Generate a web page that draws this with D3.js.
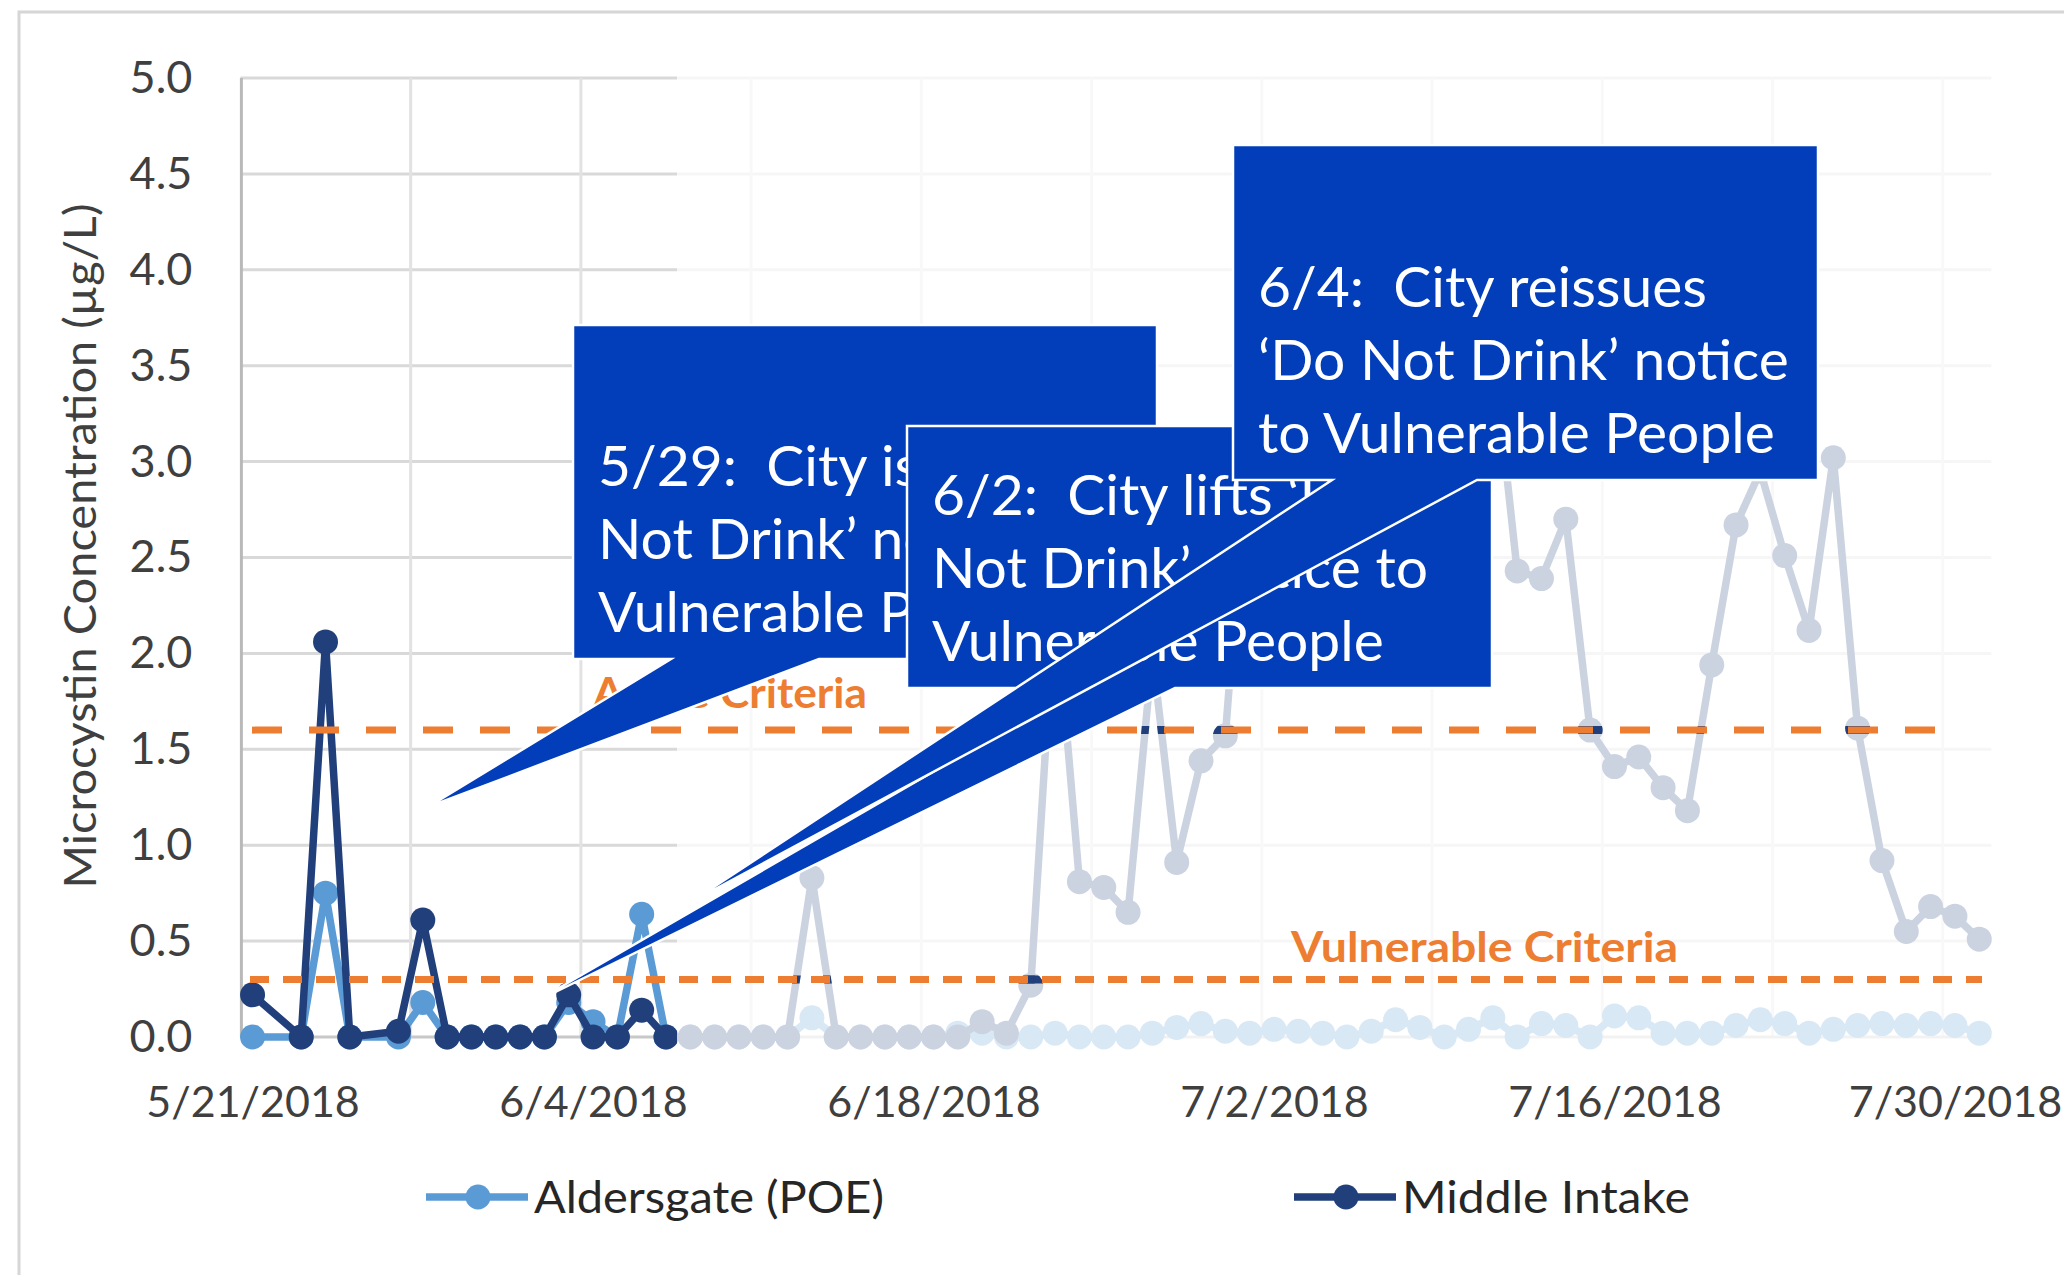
<!DOCTYPE html>
<html>
<head>
<meta charset="utf-8">
<script src="https://cdnjs.cloudflare.com/ajax/libs/d3/7.8.5/d3.min.js"></script>
<style>
  html, body { margin: 0; padding: 0; background: #fff; }
  svg { display: block; }
</style>
</head>
<body>
<div id="chart"></div>
<script>
// sample dates (2018)
var dates = ["5/21", "5/23", "5/24", "5/25", "5/27", "5/28", "5/29", "5/30", "5/31",
  "6/1", "6/2", "6/3", "6/4", "6/5", "6/6", "6/7", "6/8", "6/9", "6/10",
  "6/11", "6/12", "6/13", "6/14", "6/15", "6/16", "6/17", "6/18", "6/19", "6/20",
  "6/21", "6/22", "6/23", "6/24", "6/25", "6/26", "6/27", "6/28", "6/29", "6/30",
  "7/1", "7/2", "7/3", "7/4", "7/5", "7/6", "7/7", "7/8", "7/9", "7/10",
  "7/11", "7/12", "7/13", "7/14", "7/15", "7/16", "7/17", "7/18", "7/19", "7/20",
  "7/21", "7/22", "7/23", "7/24", "7/25", "7/26", "7/27", "7/28", "7/29", "7/30", "7/31"];
var aldersgate = [0, 0, 0.75, 0, 0, 0.18, 0, 0, 0,
  0, 0, 0.18, 0.08, 0, 0.64, 0, 0, 0, 0,
  0, 0, 0.10, 0, 0, 0, 0, 0, 0.02, 0.02,
  0, 0, 0.02, 0, 0, 0, 0.02, 0.05, 0.07, 0.03,
  0.02, 0.04, 0.03, 0.02, 0, 0.03, 0.09, 0.05, 0, 0.04,
  0.10, 0, 0.07, 0.06, 0, 0.11, 0.10, 0.02, 0.02, 0.02,
  0.06, 0.09, 0.07, 0.02, 0.04, 0.06, 0.07, 0.06, 0.07, 0.06, 0.02];
var middleIntake = [0.22, 0, 2.06, 0, 0.03, 0.61, 0, 0, 0,
  0, 0, 0.22, 0, 0, 0.14, 0, 0, 0, 0,
  0, 0, 0.83, 0, 0, 0, 0, 0, 0, 0.08,
  0.02, 0.27, 2.3, 0.81, 0.78, 0.65, 2.0, 0.91, 1.44, 1.57,
  3.2, 2.9, 3.5, 3.1, 2.8, 3.3, 3.0, 2.7, 3.4, 3.1,
  3.6, 2.43, 2.39, 2.70, 1.60, 1.41, 1.46, 1.30, 1.18, 1.94,
  2.67, 2.95, 2.51, 2.12, 3.02, 1.61, 0.92, 0.55, 0.68, 0.63, 0.51];
var seriesNames = ["Aldersgate (POE)", "Middle Intake"];
var yTicks = [0, 0.5, 1, 1.5, 2, 2.5, 3, 3.5, 4, 4.5, 5];
var xTicks = ["5/21/2018", "6/4/2018", "6/18/2018", "7/2/2018", "7/16/2018", "7/30/2018"];
var criteriaNames = ["Acute Criteria", "Vulnerable Criteria"];
var criteriaValues = [1.6, 0.3];
var calloutText = [
  ["5/29:  City issues \u2018Do", "Not Drink\u2019 notice to", "Vulnerable People"],
  ["6/2:  City lifts \u2018Do", "Not Drink\u2019 notice to", "Vulnerable People"],
  ["6/4:  City reissues", "\u2018Do Not Drink\u2019 notice", "to Vulnerable People"]
];

var FONT = "Lato, 'Open Sans', sans-serif";
var colors = ["#5b9bd5", "#213f7a"];
var orange = "#ed7d31";
var calloutBlue = "#023dba";

var W = 2064, H = 1275;
var plot = { left: 240.4, right: 1991.4, top: 78, bottom: 1037 };
var fadeFrom = 677;

var parse = d3.timeParse("%m/%d/%Y");
var data = dates.map(function (d, i) {
  return { date: parse(d + "/2018"), a: aldersgate[i], m: middleIntake[i] };
});

var svg = d3.select("#chart").append("svg")
  .attr("width", W).attr("height", H)
  .attr("viewBox", "0 0 " + W + " " + H);

// dates sit in the middle of their day slot, like an Excel date axis
var x = d3.scaleTime()
  .domain([new Date(2018, 4, 20, 12), new Date(2018, 6, 31, 12)])
  .range([plot.left, plot.right]);
var y = d3.scaleLinear().domain([0, 5]).range([plot.bottom, plot.top]);

// outer frame
svg.append("rect")
  .attr("x", 19).attr("y", 12).attr("width", 2200).attr("height", 1400)
  .attr("fill", "none").attr("stroke", "#d6d6d6").attr("stroke-width", 3);

// grid
var grid = svg.append("g");
grid.selectAll("line.h")
  .data(yTicks.filter(function (d) { return d > 0; }))
  .enter().append("line")
  .attr("x1", plot.left).attr("x2", plot.right)
  .attr("y1", function (d) { return y(d); })
  .attr("y2", function (d) { return y(d); })
  .attr("stroke", "#d9d9d9").attr("stroke-width", 3);
var weekLines = d3.range(1, 11).map(function (k) {
  return d3.timeDay.offset(x.domain()[0], 7 * k);
});
grid.selectAll("line.v")
  .data(weekLines)
  .enter().append("line")
  .attr("x1", function (d) { return x(d); })
  .attr("x2", function (d) { return x(d); })
  .attr("y1", plot.top).attr("y2", plot.bottom)
  .attr("stroke", "#e2e2e2").attr("stroke-width", 3);
grid.append("line")
  .attr("x1", plot.left).attr("x2", plot.right)
  .attr("y1", plot.bottom).attr("y2", plot.bottom)
  .attr("stroke", "#c8c8c8").attr("stroke-width", 3);
grid.append("line")
  .attr("x1", plot.left + 1).attr("x2", plot.left + 1)
  .attr("y1", plot.top).attr("y2", plot.bottom)
  .attr("stroke", "#b9b9b9").attr("stroke-width", 3);

// series
var keys = ["a", "m"];
function drawSeries(g, k, i) {
  var line = d3.line()
    .x(function (d) { return x(d.date); })
    .y(function (d) { return y(d[k]); });
  g.append("path")
    .datum(data)
    .attr("d", line)
    .attr("fill", "none")
    .attr("stroke", colors[i])
    .attr("stroke-width", 7.5)
    .attr("stroke-linejoin", "round");
  g.selectAll("circle." + k)
    .data(data)
    .enter().append("circle")
    .attr("cx", function (d) { return x(d.date); })
    .attr("cy", function (d) { return y(d[k]); })
    .attr("r", 12.5)
    .attr("fill", colors[i]);
}
var seriesG = svg.append("g");
keys.forEach(function (k, i) { drawSeries(seriesG, k, i); });

// washed-out part of the picture after 6/7
svg.append("rect")
  .attr("x", fadeFrom).attr("y", 40)
  .attr("width", 1997 - fadeFrom).attr("height", 1020)
  .attr("fill", "#fff").attr("opacity", 0.77);

// criteria lines (they keep the original colours where the series cross)
var defs = svg.append("defs");
criteriaValues.forEach(function (v, i) {
  defs.append("clipPath").attr("id", "strip" + i)
    .append("rect")
    .attr("x", fadeFrom).attr("y", y(v) - 4)
    .attr("width", 1997 - fadeFrom).attr("height", 8);
  var sg = svg.append("g").attr("clip-path", "url(#strip" + i + ")");
  drawSeries(sg, "m", 1);
});
var dashes = ["30,27", "19,14"];
var ends = [[252, 1950], [250, 1982]];
criteriaValues.forEach(function (v, i) {
  svg.append("line")
    .attr("x1", ends[i][0]).attr("x2", ends[i][1])
    .attr("y1", y(v)).attr("y2", y(v))
    .attr("stroke", orange)
    .attr("stroke-width", 7)
    .attr("stroke-dasharray", dashes[i]);
});
var critPos = [[593, 708, 274], [1291, 962, 387]];
criteriaNames.forEach(function (t, i) {
  svg.append("text")
    .attr("x", critPos[i][0]).attr("y", critPos[i][1])
    .attr("font-family", FONT).attr("font-weight", "bold")
    .attr("font-size", 42)
    .attr("textLength", critPos[i][2])
    .attr("lengthAdjust", "spacingAndGlyphs")
    .attr("fill", orange)
    .text(t);
});

// axes
var yAxis = svg.append("g")
  .attr("transform", "translate(" + plot.left + ",0)")
  .call(d3.axisLeft(y).tickValues(yTicks).tickFormat(d3.format(".1f"))
    .tickSize(0).tickPadding(48));
var xAxis = svg.append("g")
  .attr("transform", "translate(0," + plot.bottom + ")")
  .call(d3.axisBottom(x).tickValues(xTicks.map(parse))
    .tickFormat(d3.timeFormat("%-m/%-d/%Y"))
    .tickSize(0).tickPadding(49));
[yAxis, xAxis].forEach(function (ax) {
  ax.select(".domain").remove();
  ax.selectAll("text")
    .attr("font-family", FONT)
    .attr("fill", "#3f3f3f");
});
yAxis.selectAll("text").attr("font-size", 45);
xAxis.selectAll("text").attr("font-size", 43);

svg.append("text")
  .attr("transform", "translate(96,546) rotate(-90)")
  .attr("text-anchor", "middle")
  .attr("font-family", FONT).attr("font-size", 44)
  .attr("textLength", 685).attr("lengthAdjust", "spacingAndGlyphs")
  .attr("fill", "#3f3f3f")
  .text("Microcystin Concentration (\u00b5g/L)");

// legend
var legendX = [[426, 530, 350], [1294, 1398, 288]];
seriesNames.forEach(function (name, i) {
  var lg = svg.append("g");
  lg.append("line")
    .attr("x1", legendX[i][0]).attr("x2", legendX[i][1] - 2)
    .attr("y1", 1197).attr("y2", 1197)
    .attr("stroke", colors[i]).attr("stroke-width", 7.5);
  lg.append("circle")
    .attr("cx", (legendX[i][0] + legendX[i][1]) / 2).attr("cy", 1197)
    .attr("r", 12.5).attr("fill", colors[i]);
  lg.append("text")
    .attr("x", legendX[i][1] + 4).attr("y", 1213)
    .attr("font-family", FONT).attr("font-size", 45)
    .attr("textLength", legendX[i][2]).attr("lengthAdjust", "spacingAndGlyphs")
    .attr("fill", "#262626")
    .text(name);
});

// callouts: box, tail base on the bottom edge, tail tip
function textWidth(str, size) {
  var t = svg.append("text").attr("font-family", FONT).attr("font-size", size).text(str);
  var w = t.node().getComputedTextLength();
  t.remove();
  return w;
}
var calloutSize = 100 * 517 / textWidth("to Vulnerable People", 100);
var boxes = [
  { x0: 573, y0: 325, x1: 1157, y1: 659, bl: 671, br: 819, tip: [428, 807] },
  { x0: 907, y0: 426, x1: 1492, y1: 688, bl: 1078, br: 1175, tip: [533, 1003] },
  { x0: 1233, y0: 145, x1: 1818, y1: 480, bl: 1332, br: 1477, tip: [691, 902] }
];
boxes.forEach(function (b, i) {
  var cg = svg.append("g");
  var p = d3.path();
  p.moveTo(b.x0, b.y0);
  p.lineTo(b.x1, b.y0);
  p.lineTo(b.x1, b.y1);
  p.lineTo(b.br, b.y1);
  p.lineTo(b.tip[0], b.tip[1]);
  p.lineTo(b.bl, b.y1);
  p.lineTo(b.x0, b.y1);
  p.closePath();
  cg.append("path")
    .attr("d", p.toString())
    .attr("fill", calloutBlue)
    .attr("stroke", "#fff")
    .attr("stroke-width", 2.5)
    .attr("stroke-linejoin", "miter");
  var lines = calloutText[i];
  cg.selectAll("text")
    .data(lines)
    .enter().append("text")
    .attr("x", b.x0 + 25)
    .attr("y", function (d, j) { return b.y1 - 27 - (lines.length - 1 - j) * 73; })
    .attr("font-family", FONT)
    .attr("font-size", calloutSize)
    .attr("fill", "#fff")
    .style("white-space", "pre")
    .text(function (d) { return d; });
});
</script>
</body>
</html>
